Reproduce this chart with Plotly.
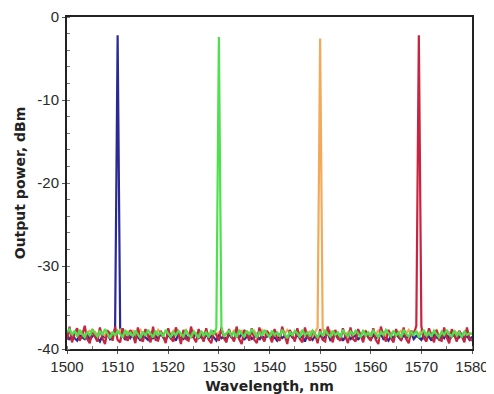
import numpy as np
import plotly.graph_objects as go

# Wavelength grid (nm), 0.5 nm step
wl_start = 1500.0
wl_step = 0.5

# Laser lines: centre wavelength (nm) and peak power (dBm)
names = ["1510 nm", "1530 nm", "1550 nm", "1570 nm"]
centers = [1510.0, 1530.0, 1550.0, 1569.5]
peaks = [-2.2, -2.4, -2.6, -2.2]
colors = ["#2b2a95", "#4ee04e", "#f2a95a", "#c8243f"]

# Noise floor (dBm), one value every 0.5 nm
noise_blue = [
    -38.4, -38.9, -38.1, -38.7, -39.0, -38.3, -38.6, -38.8, -38.2, -38.9,
    -38.5, -38.1, -38.7, -39.1, -38.4, -38.6, -38.2, -38.8, -38.5, -37.6,
    -38.0, -37.5, -38.3, -38.9, -38.4, -38.7, -38.1, -38.8, -38.5, -39.0,
    -38.3, -38.6, -38.9, -38.2, -38.7, -38.4, -38.8, -38.1, -38.6, -38.9,
    -38.3, -38.7, -38.5, -39.0, -38.2, -38.6, -38.8, -38.4, -38.9, -38.3,
    -38.6, -38.1, -38.7, -38.5, -38.9, -38.2, -38.8, -38.4, -38.6, -39.0,
    -38.3, -38.7, -38.5, -38.9, -38.2, -38.6, -38.8, -38.4, -38.7, -38.1,
    -38.9, -38.5, -38.3, -38.8, -38.6, -38.2, -38.9, -38.4, -38.7, -38.5,
    -38.2, -38.8, -38.6, -39.0, -38.3, -38.7, -38.4, -38.9, -38.1, -38.6,
    -38.8, -38.3, -38.7, -38.5, -39.1, -38.2, -38.6, -38.9, -38.4, -38.7,
    -38.3, -38.8, -38.5, -38.1, -38.9, -38.6, -38.2, -38.7, -38.4, -39.0,
    -38.5, -38.2, -38.8, -38.6, -38.3, -38.9, -38.4, -38.7, -38.1, -38.6,
    -38.9, -38.3, -38.7, -38.5, -38.2, -38.8, -38.6, -39.0, -38.4, -38.7,
    -38.2, -38.6, -38.9, -38.3, -38.7, -38.5, -38.1, -38.8, -38.4, -38.6,
    -38.9, -38.3, -38.7, -38.5, -39.0, -38.2, -38.6, -38.8, -38.4, -38.7,
    -38.1, -38.9, -38.5, -38.3, -38.8, -38.6, -38.2, -38.7, -38.4, -38.9,
    -38.5,
]
noise_green = [
    -38.0, -37.6, -38.3, -37.8, -38.5, -37.7, -38.2, -38.6, -37.9, -38.4,
    -37.7, -38.1, -38.5, -37.8, -38.3, -37.6, -38.2, -38.7, -37.9, -38.4,
    -37.8, -38.2, -38.6, -37.7, -38.3, -38.0, -38.5, -37.8, -38.2, -38.7,
    -37.9, -38.4, -37.7, -38.1, -38.6, -37.8, -38.3, -38.0, -38.5, -37.7,
    -38.2, -38.6, -37.9, -38.4, -37.8, -38.1, -38.5, -37.7, -38.3, -38.6,
    -37.9, -38.2, -38.7, -37.8, -38.4, -38.0, -38.6, -37.7, -38.3, -37.5,
    -37.9, -37.4, -38.5, -38.1, -37.8, -38.4, -38.0, -38.6, -37.7, -38.2,
    -38.5, -37.8, -38.3, -37.6, -38.1, -38.6, -37.9, -38.4, -37.7, -38.2,
    -38.6, -37.8, -38.3, -38.0, -38.5, -37.7, -38.2, -38.7, -37.9, -38.4,
    -37.8, -38.1, -38.6, -37.7, -38.3, -38.0, -38.5, -37.8, -38.2, -38.6,
    -37.9, -38.4, -37.7, -38.2, -38.5, -37.8, -38.3, -38.0, -38.6, -37.7,
    -38.2, -38.5, -37.9, -38.3, -37.8, -38.1, -38.6, -37.7, -38.4, -38.0,
    -38.5, -37.8, -38.2, -38.6, -37.9, -38.3, -37.7, -38.1, -38.5, -37.8,
    -38.4, -38.0, -38.6, -37.7, -38.2, -38.5, -37.9, -38.3, -37.8, -38.6,
    -38.1, -37.7, -38.4, -38.0, -38.5, -37.8, -38.2, -38.6, -37.9, -38.3,
    -37.7, -38.2, -38.5, -37.8, -38.4, -38.0, -38.6, -37.9, -38.3, -38.1,
    -38.2,
]
noise_orange = [
    -38.1, -37.8, -38.3, -38.0, -37.7, -38.2, -37.9, -38.4, -38.0, -37.8,
    -38.2, -37.9, -38.3, -37.7, -38.1, -38.4, -37.8, -38.0, -38.3, -37.9,
    -38.1, -37.7, -38.2, -38.4, -37.9, -38.0, -37.8, -38.3, -38.1, -37.7,
    -38.2, -37.9, -38.4, -38.0, -37.8, -38.3, -37.7, -38.1, -38.2, -37.9,
    -38.0, -38.3, -37.8, -38.1, -37.9, -38.4, -38.0, -37.7, -38.2, -38.1,
    -37.8, -38.3, -37.9, -38.0, -38.2, -37.7, -38.4, -38.1, -37.9, -38.2,
    -38.0, -37.8, -38.3, -38.1, -37.9, -38.4, -37.7, -38.2, -38.0, -37.8,
    -38.3, -37.9, -38.1, -38.2, -37.8, -38.4, -38.0, -37.7, -38.2, -37.9,
    -38.1, -38.3, -37.8, -38.0, -38.4, -37.9, -38.2, -37.7, -38.1, -38.3,
    -37.9, -38.2, -38.0, -37.8, -38.3, -38.1, -37.9, -38.4, -38.0, -37.4,
    -38.0, -37.5, -38.2, -38.0, -37.8, -38.3, -37.9, -38.1, -38.4, -37.8,
    -38.2, -38.0, -37.7, -38.3, -38.1, -37.9, -38.4, -38.0, -37.8, -38.2,
    -38.1, -37.9, -38.3, -37.7, -38.2, -38.0, -38.4, -37.8, -38.1, -37.9,
    -38.3, -38.0, -37.8, -38.2, -38.1, -37.7, -38.4, -37.9, -38.0, -38.2,
    -37.8, -38.3, -38.1, -37.9, -38.2, -38.0, -37.7, -38.4, -38.1, -37.9,
    -38.2, -38.0, -38.3, -37.8, -38.1, -37.9, -38.4, -38.0, -37.8, -38.2,
    -38.1,
]
noise_red = [
    -38.9, -37.3, -39.2, -38.1, -37.5, -39.0, -38.4, -37.2, -38.8, -39.3,
    -37.6, -38.5, -39.1, -37.4, -38.7, -39.4, -37.8, -38.2, -39.0, -37.3,
    -38.9, -39.2, -37.5, -38.6, -39.0, -37.7, -38.3, -39.3, -37.4, -38.8,
    -39.1, -37.6, -38.4, -39.2, -37.3, -38.9, -39.0, -37.8, -38.5, -39.3,
    -37.5, -38.7, -39.1, -37.4, -38.2, -39.4, -37.7, -38.8, -39.0, -37.3,
    -38.6, -39.2, -37.6, -38.4, -39.1, -37.5, -38.9, -39.3, -37.8, -38.3,
    -39.0, -37.4, -38.7, -39.2, -37.6, -38.5, -39.1, -37.3, -38.8, -39.4,
    -37.7, -38.2, -39.0, -37.5, -38.9, -39.3, -37.4, -38.6, -39.1, -37.8,
    -38.4, -39.2, -37.6, -38.7, -39.0, -37.3, -38.5, -39.4, -37.7, -38.3,
    -39.1, -37.5, -38.8, -39.2, -37.4, -38.6, -39.0, -37.8, -38.2, -39.3,
    -37.6, -38.9, -39.1, -37.3, -38.4, -39.2, -37.7, -38.7, -39.0, -37.5,
    -38.5, -39.3, -37.4, -38.8, -39.1, -37.6, -38.3, -39.2, -37.8, -38.6,
    -39.0, -37.5, -38.9, -39.4, -37.3, -38.4, -39.1, -37.7, -38.7, -39.2,
    -37.6, -38.5, -39.0, -37.4, -38.8, -39.3, -37.8, -38.2, -37.2, -37.9,
    -37.3, -38.7, -39.1, -37.5, -38.4, -39.2, -37.7, -38.9, -39.0, -37.4,
    -38.6, -39.3, -37.6, -38.3, -39.1, -37.8, -38.5, -39.2, -37.4, -38.8,
    -39.0,
]
noises = [noise_blue, noise_green, noise_orange, noise_red]

x_ticks = [1500, 1510, 1520, 1530, 1540, 1550, 1560, 1570, 1580]
y_ticks = [0, -10, -20, -30, -40]
y_ticktext = ["0", "-10", "-20", "-30", "-40"]

fig = go.Figure()
draw_order = [0, 2, 3, 1]  # blue, orange, red, green on top
for i in draw_order:
    y = list(noises[i])
    x = list(wl_start + wl_step * np.arange(len(y)))
    k = int(round((centers[i] - wl_start) / wl_step))
    y[k] = peaks[i]
    fig.add_trace(go.Scatter(x=x, y=y, mode="lines", name=names[i],
                             line=dict(color=colors[i], width=2.2)))

axis_common = dict(
    showline=True, linewidth=2, linecolor="#222222", mirror=True,
    showgrid=False, zeroline=False, automargin=False,
    ticks="outside", ticklen=3, tickwidth=1, tickcolor="#555555",
    tickfont=dict(family="Liberation Sans", size=15, color="#2a2a2a"),
)
title_font = dict(family="DejaVu Sans", size=14, color="#222222", weight="bold")
fig.update_xaxes(range=[1500, 1580], tickvals=x_ticks,
                 title=dict(text="Wavelength, nm", standoff=10, font=title_font),
                 minor=dict(ticks="inside", ticklen=3, tickcolor="#777777", dtick=5),
                 **axis_common)
fig.update_yaxes(range=[-40, 0], tickvals=y_ticks, ticktext=y_ticktext,
                 title=dict(text="Output power, dBm", standoff=8, font=title_font),
                 minor=dict(ticks="inside", ticklen=3, tickcolor="#777777", dtick=2),
                 **axis_common)
# the page adds an 8 px body margin, so the figure is slightly smaller than the window
fig.update_layout(width=486, height=386, showlegend=False,
                  margin=dict(l=59, r=22, t=9, b=45),
                  plot_bgcolor="white", paper_bgcolor="white")
fig.write_html("out.html")
